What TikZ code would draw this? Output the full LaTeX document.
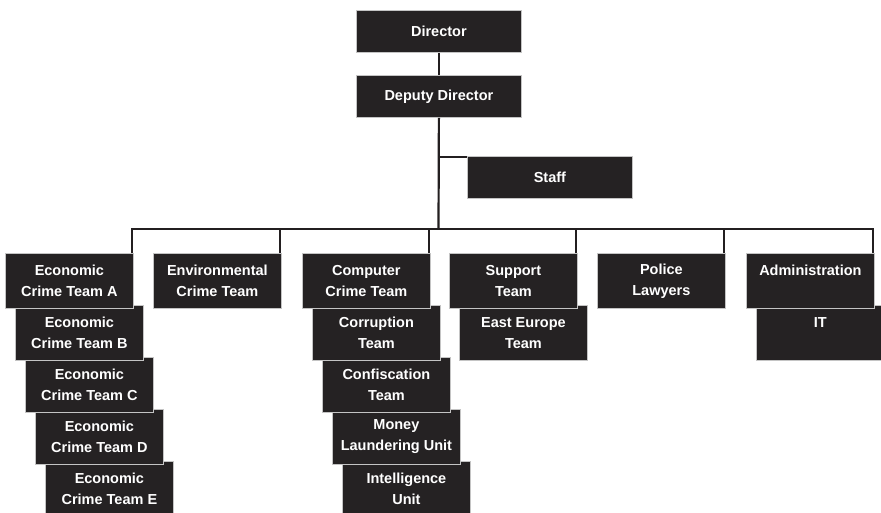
\documentclass[tikz,border=0pt]{standalone}
\usepackage{fontspec}
\setmainfont{Liberation Sans}
\definecolor{boxfill}{HTML}{252223}
\definecolor{rim}{HTML}{C4C4C4}
\definecolor{wire}{HTML}{231F20}

\begin{document}
\begin{tikzpicture}[x=1pt,y=-1pt,
  unit/.style={draw=rim, line width=0.8pt, fill=boxfill, text=white,
    font=\fontsize{14.5}{21}\selectfont\bfseries, align=center,
    anchor=north west, minimum width=128pt, minimum height=55pt, inner sep=0pt},
  head/.style={unit, minimum width=165pt, minimum height=42pt},
  link/.style={draw=wire, line width=2.2pt}]

\clip (0,0) rectangle (881,512);
\fill[white] (0,0) rectangle (881,512);

% top of the hierarchy
\node[head] (dir)   at (356,10)  {Director};
\node[head] (dd)    at (356,75)  {Deputy Director};
\node[head] (staff) at (467,156) {Staff};

% column 1: economic crime teams (lower boxes first, upper ones overlap them)
\node[unit] (ecoE) at (45,461) {Economic\\Crime Team E};
\node[unit] (ecoD) at (35,409) {Economic\\Crime Team D};
\node[unit] (ecoC) at (25,357) {Economic\\Crime Team C};
\node[unit] (ecoB) at (15,305) {Economic\\Crime Team B};
\node[unit] (ecoA) at (5,253)  {Economic\\Crime Team A};

% column 2
\node[unit] (env) at (153,253) {Environmental\\Crime Team};

% column 3
\node[unit] (intel) at (342,461) {Intelligence\\Unit};
\node[unit] (money) at (332,409) {Money\\Laundering Unit};
\node[unit] (conf)  at (322,357) {Confiscation\\Team};
\node[unit] (corr)  at (312,305) {Corruption\\Team};
\node[unit] (comp)  at (302,253) {Computer\\Crime Team};

% column 4
\node[unit] (east) at (459,305) {East Europe\\Team};
\node[unit] (supp) at (449,253) {Support\\Team};

% column 5
\node[unit] (law) at (597,253) {Police\\Lawyers};

% column 6
\node[unit] (it)    at (756,305) {IT\\\phantom{Team}};
\node[unit] (admin) at (746,253) {Administration\\\phantom{Team}};

% connectors
\coordinate (bus) at (438.5,229);
\draw[link] (dir) -- (dd);
\draw[link] (dd.south) -- (bus);
\draw[link] (dd.south |- staff.north west) ++(0,1) -- ([yshift=-1pt]staff.north west);
\foreach \col in {ecoA,env,comp,supp,law,admin}
  \draw[link] (bus) -| ([xshift=-2pt]\col.north east);
\end{tikzpicture}
\end{document}
